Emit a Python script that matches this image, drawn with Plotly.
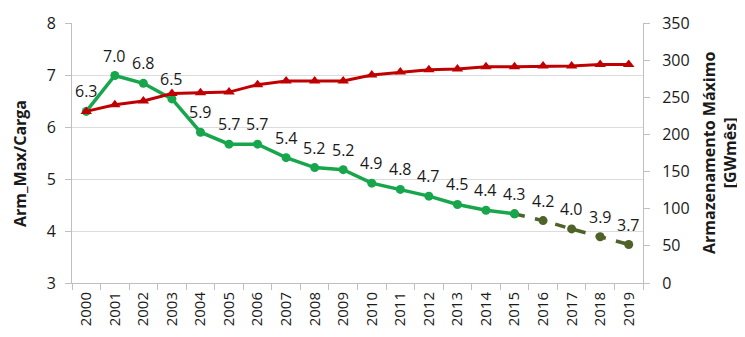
import plotly.graph_objects as go

years = [str(y) for y in range(2000, 2020)]
ratio = [6.30, 6.99, 6.84, 6.54, 5.90, 5.67, 5.67, 5.41, 5.22, 5.18,
         4.92, 4.80, 4.67, 4.51, 4.40, 4.33, 4.20, 4.04, 3.89, 3.74]
ratio_labels = ["6.3", "7.0", "6.8", "6.5", "5.9", "5.7", "5.7", "5.4", "5.2", "5.2",
                "4.9", "4.8", "4.7", "4.5", "4.4", "4.3", "4.2", "4.0", "3.9", "3.7"]
storage = [231, 240, 245, 255, 256, 257, 267, 272, 272, 272,
           280, 284, 287, 288, 291, 291, 292, 292, 294, 294]
n_hist = 16  # 2000-2015 observed, 2016-2019 projected
left_ticks = [3, 4, 5, 6, 7, 8]
right_ticks = [0, 50, 100, 150, 200, 250, 300, 350]

GREEN = "#17a64c"
OLIVE = "#4f6228"
RED = "#c00000"
FONT = "Open Sans"
TXT = "#1a1a1a"

fig = go.Figure()
fig.add_trace(go.Scatter(
    x=years, y=storage, yaxis="y2", mode="lines+markers",
    line=dict(color=RED, width=3),
    marker=dict(symbol="triangle-up", size=10, color=RED),
    showlegend=False, hoverinfo="skip"))
fig.add_trace(go.Scatter(
    x=years[n_hist - 1:], y=ratio[n_hist - 1:], mode="lines+markers",
    line=dict(color=OLIVE, width=3.5, dash="dash"),
    marker=dict(symbol="circle", size=9, color=OLIVE),
    showlegend=False, hoverinfo="skip"))
fig.add_trace(go.Scatter(
    x=years[:n_hist], y=ratio[:n_hist], mode="lines+markers",
    line=dict(color=GREEN, width=3.5),
    marker=dict(symbol="circle", size=9, color=GREEN),
    showlegend=False, hoverinfo="skip"))

annotations = []
for i, (v, lab) in enumerate(zip(ratio, ratio_labels)):
    annotations.append(dict(x=i, y=v, xref="x", yref="y", text=lab,
                            showarrow=False, yshift=20,
                            font=dict(family=FONT, size=16, color=TXT)))
annotations.append(dict(x=0, y=0.5, xref="paper", yref="paper",
                        text="<b>Arm_Max/Carga</b>", textangle=-90,
                        showarrow=False, xanchor="center", yanchor="middle",
                        xshift=-52, yshift=-11,
                        font=dict(family=FONT, size=16, color=TXT)))
annotations.append(dict(x=1, y=0.5, xref="paper", yref="paper",
                        text="<b>Armazenamento Máximo<br>[GWmês]</b>", textangle=-90,
                        showarrow=False, xanchor="center", yanchor="middle",
                        xshift=76,
                        font=dict(family=FONT, size=16, color=TXT)))

fig.update_layout(
    width=737, height=321,
    margin=dict(l=64, r=102, t=15, b=46, autoexpand=False),
    paper_bgcolor="white", plot_bgcolor="white",
    font=dict(family=FONT, size=16, color=TXT),
    annotations=annotations,
    xaxis=dict(type="category", tickson="boundaries", ticks="outside",
               ticklen=6, tickcolor="#bfbfbf", showline=True, linecolor="#bfbfbf",
               showgrid=False, tickangle=-90, tickfont=dict(size=15),
               ticklabelstandoff=2,
               range=[-0.5, 19.5], automargin=False),
    yaxis=dict(range=[3, 8], tickvals=left_ticks, ticks="outside", ticklen=6,
               tickcolor="#bfbfbf", showline=True, linecolor="#bfbfbf",
               gridcolor="#dcdcdc", gridwidth=1, zeroline=False,
               ticklabelstandoff=6,
               tickfont=dict(size=16), automargin=False),
    yaxis2=dict(range=[0, 350], tickvals=right_ticks, overlaying="y", side="right",
                ticks="outside", ticklen=6, tickcolor="#bfbfbf", showline=True,
                linecolor="#bfbfbf", showgrid=False, zeroline=False,
                ticklabelstandoff=9,
                tickfont=dict(size=16), automargin=False),
)

fig.write_html("out.html")
